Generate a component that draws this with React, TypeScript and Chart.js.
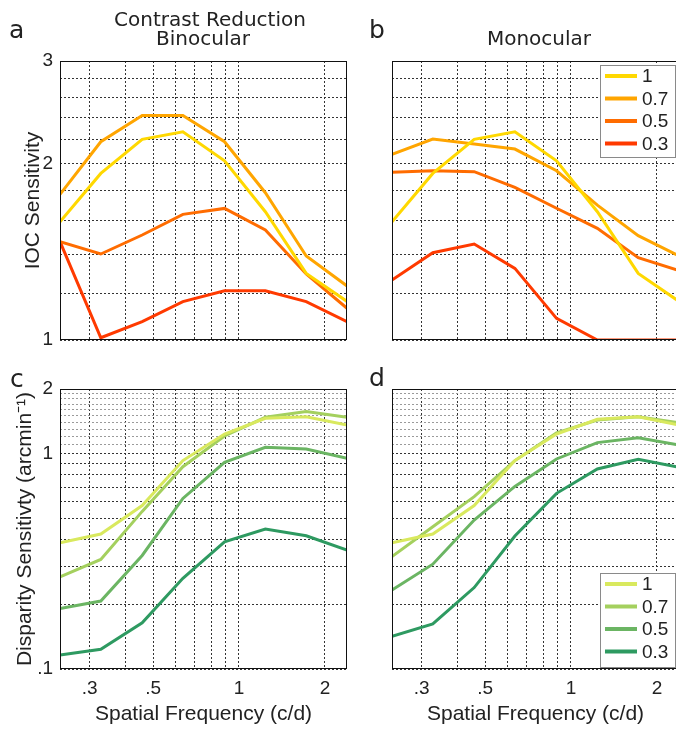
import React, { useEffect, useRef } from 'react';
import { Chart, registerables } from 'chart.js';

Chart.register(...registerables);

// ---------- data ----------
const SPATIAL_FREQ = [0.236, 0.328, 0.458, 0.636, 0.89, 1.237, 1.72, 2.39];
const X_MIN = 0.236;
const X_MAX = 2.39;
const X_GRID = [0.3, 0.4, 0.5, 0.6, 0.7, 0.8, 0.9, 1, 2];
const X_TICK_VALUES = [0.3, 0.5, 1, 2];
const X_TICK_LABELS = ['.3', '.5', '1', '2'];

const CONTRAST_LABELS = ['1', '0.7', '0.5', '0.3'];

const IOC_BINO_100 = [1.593, 1.927, 2.204, 2.27, 2.025, 1.657, 1.3, 1.164];
const IOC_BINO_70 = [1.774, 2.183, 2.42, 2.42, 2.183, 1.786, 1.392, 1.237];
const IOC_BINO_50 = [1.473, 1.403, 1.512, 1.64, 1.679, 1.542, 1.297, 1.133];
const IOC_BINO_30 = [1.473, 1.009, 1.075, 1.163, 1.214, 1.214, 1.163, 1.075];

const IOC_MONO_100 = [1.593, 1.927, 2.204, 2.27, 2.025, 1.657, 1.3, 1.164];
const IOC_MONO_70 = [2.077, 2.206, 2.163, 2.121, 1.947, 1.701, 1.508, 1.392];
const IOC_MONO_50 = [1.935, 1.947, 1.94, 1.824, 1.68, 1.552, 1.383, 1.314];
const IOC_MONO_30 = [1.266, 1.41, 1.459, 1.326, 1.089, 1.0, 1.0, 1.0];

const DISP_BINO_100 = [0.386, 0.424, 0.575, 0.93, 1.236, 1.462, 1.487, 1.361];
const DISP_BINO_70 = [0.268, 0.323, 0.54, 0.871, 1.21, 1.478, 1.57, 1.478];
const DISP_BINO_50 = [0.191, 0.207, 0.337, 0.62, 0.913, 1.072, 1.052, 0.953];
const DISP_BINO_30 = [0.116, 0.1235, 0.164, 0.264, 0.39, 0.447, 0.416, 0.357];

const DISP_MONO_100 = [0.386, 0.424, 0.575, 0.93, 1.236, 1.446, 1.487, 1.361];
const DISP_MONO_70 = [0.333, 0.458, 0.632, 0.93, 1.25, 1.436, 1.487, 1.395];
const DISP_MONO_50 = [0.233, 0.307, 0.492, 0.705, 0.946, 1.127, 1.188, 1.099];
const DISP_MONO_30 = [0.142, 0.162, 0.239, 0.415, 0.655, 0.85, 0.943, 0.865];

const IOC_Y_MIN = 1;
const IOC_Y_MAX = 3;
const IOC_Y_GRID = [1, 1.2, 1.4, 1.6, 1.8, 2, 2.2, 2.4, 2.6, 2.8, 3];
const IOC_Y_TICK_VALUES = [1, 2, 3];
const IOC_Y_TICK_LABELS = ['1', '2', '3'];

const DISP_Y_MIN = 0.1;
const DISP_Y_MAX = 2;
const DISP_Y_GRID = [0.1, 0.2, 0.3, 0.4, 0.5, 0.6, 0.7, 0.8, 0.9, 1, 1.1, 1.2, 1.3, 1.4, 1.5, 1.6, 1.7, 1.8, 1.9, 2];
const DISP_Y_TICK_VALUES = [0.1, 1, 2];
const DISP_Y_TICK_LABELS = ['.1', '1', '2'];

const WARM_COLORS = ['#FFD800', '#FFA500', '#FF6C00', '#FF3A00'];
const GREEN_COLORS = ['#D9E95E', '#A4D05E', '#6BB563', '#2E9A61'];

// ---------- styling ----------
const TICK_FONT = { family: '"Liberation Sans", Arial, sans-serif', size: 19 };
const TITLE_FONT = { family: '"Liberation Sans", Arial, sans-serif', size: 21 };
const TEXT_COLOR = '#222';
const CANVAS_W = 690;
const CANVAS_H = 730;

type Area = { left: number; top: number; right: number; bottom: number };
type TextItem = { text: string; x: number; y: number; font: string; align: CanvasTextAlign };
type PanelCfg = {
  series: number[][];
  colors: string[];
  yMin: number;
  yMax: number;
  yGrid: number[];
  yTickValues: number[];
  yTickLabels: string[];
  lightAbove: number;
  showX: boolean;
  showY: boolean;
  yTitle?: string;
  yTitlePad?: number;
  xTitle?: string;
  area: Area;
  legend?: { x: number; y: number; w: number; h: number };
  texts: TextItem[];
};

const LETTER_FONT = '25px "DejaVu Sans", sans-serif';
const HEAD_FONT = '20px "DejaVu Sans", sans-serif';

const PANELS: PanelCfg[] = [
  {
    series: [IOC_BINO_100, IOC_BINO_70, IOC_BINO_50, IOC_BINO_30],
    colors: WARM_COLORS,
    yMin: IOC_Y_MIN, yMax: IOC_Y_MAX, yGrid: IOC_Y_GRID,
    yTickValues: IOC_Y_TICK_VALUES, yTickLabels: IOC_Y_TICK_LABELS,
    lightAbove: 99,
    showX: false, showY: true,
    yTitle: 'IOC Sensitivity', yTitlePad: 21,
    area: { left: 60, top: 61, right: 347, bottom: 340 },
    texts: [
      { text: 'a', x: 9, y: 38, font: LETTER_FONT, align: 'left' },
      { text: 'Contrast Reduction', x: 210, y: 26, font: HEAD_FONT, align: 'center' },
      { text: 'Binocular', x: 203, y: 45, font: HEAD_FONT, align: 'center' },
    ],
  },
  {
    series: [IOC_MONO_100, IOC_MONO_70, IOC_MONO_50, IOC_MONO_30],
    colors: WARM_COLORS,
    yMin: IOC_Y_MIN, yMax: IOC_Y_MAX, yGrid: IOC_Y_GRID,
    yTickValues: IOC_Y_TICK_VALUES, yTickLabels: IOC_Y_TICK_LABELS,
    lightAbove: 99,
    showX: false, showY: false,
    area: { left: 392, top: 61, right: 679, bottom: 340 },
    legend: { x: 600, y: 65, w: 75, h: 92 },
    texts: [
      { text: 'b', x: 369, y: 38, font: LETTER_FONT, align: 'left' },
      { text: 'Monocular', x: 539, y: 45, font: HEAD_FONT, align: 'center' },
    ],
  },
  {
    series: [DISP_BINO_100, DISP_BINO_70, DISP_BINO_50, DISP_BINO_30],
    colors: GREEN_COLORS,
    yMin: DISP_Y_MIN, yMax: DISP_Y_MAX, yGrid: DISP_Y_GRID,
    yTickValues: DISP_Y_TICK_VALUES, yTickLabels: DISP_Y_TICK_LABELS,
    lightAbove: 1.05,
    showX: true, showY: true,
    yTitle: 'Disparity Sensitivty (arcmin\u207B\u00B9)', yTitlePad: 13,
    xTitle: 'Spatial Frequency (c/d)',
    area: { left: 60, top: 389, right: 347, bottom: 669 },
    texts: [{ text: 'c', x: 10, y: 387, font: LETTER_FONT, align: 'left' }],
  },
  {
    series: [DISP_MONO_100, DISP_MONO_70, DISP_MONO_50, DISP_MONO_30],
    colors: GREEN_COLORS,
    yMin: DISP_Y_MIN, yMax: DISP_Y_MAX, yGrid: DISP_Y_GRID,
    yTickValues: DISP_Y_TICK_VALUES, yTickLabels: DISP_Y_TICK_LABELS,
    lightAbove: 1.05,
    showX: true, showY: false,
    xTitle: 'Spatial Frequency (c/d)',
    area: { left: 392, top: 389, right: 679, bottom: 669 },
    legend: { x: 600, y: 573, w: 75, h: 94 },
    texts: [{ text: 'd', x: 369, y: 386, font: LETTER_FONT, align: 'left' }],
  },
];

function labelFor(value: number, values: number[], labels: string[]): string {
  for (let i = 0; i < values.length; i++) {
    if (Math.abs(values[i] - value) < 1e-6) return labels[i];
  }
  return '';
}

function buildConfig(cfg: PanelCfg): any {
  const yAxisWidth = cfg.showY ? cfg.area.left : 0;
  const xAxisHeight = cfg.showX ? CANVAS_H - cfg.area.bottom : 0;
  const padding = {
    left: cfg.area.left - yAxisWidth,
    top: cfg.area.top,
    right: CANVAS_W - cfg.area.right,
    bottom: CANVAS_H - cfg.area.bottom - xAxisHeight,
  };

  const framePlugin = {
    id: 'frameBox',
    afterDatasetsDraw(chart: any) {
      const { ctx, chartArea: a } = chart;
      ctx.save();
      ctx.setLineDash([]);
      ctx.strokeStyle = '#111';
      ctx.lineWidth = 1;
      ctx.strokeRect(a.left + 0.5, a.top + 0.5, a.right - a.left - 1, a.bottom - a.top - 1);
      ctx.restore();
    },
  };

  const legendPlugin = {
    id: 'boxLegend',
    afterDatasetsDraw(chart: any) {
      if (!cfg.legend) return;
      const { ctx } = chart;
      const { x, y, w, h } = cfg.legend;
      ctx.save();
      ctx.setLineDash([]);
      ctx.fillStyle = '#fff';
      ctx.fillRect(x, y, w, h);
      ctx.strokeStyle = '#8a8a8a';
      ctx.lineWidth = 1;
      ctx.strokeRect(x + 0.5, y + 0.5, w, h);
      chart.data.datasets.forEach((ds: any, i: number) => {
        const cy = y + 11 + i * 22.5;
        ctx.strokeStyle = ds.borderColor;
        ctx.lineWidth = 4;
        ctx.beginPath();
        ctx.moveTo(x + 5, cy);
        ctx.lineTo(x + 37, cy);
        ctx.stroke();
        ctx.fillStyle = TEXT_COLOR;
        ctx.font = '19px "Liberation Sans", Arial, sans-serif';
        ctx.textAlign = 'left';
        ctx.textBaseline = 'middle';
        ctx.fillText(ds.label, x + 42, cy + 1);
      });
      ctx.restore();
    },
  };

  const textPlugin = {
    id: 'panelText',
    afterDraw(chart: any) {
      const { ctx } = chart;
      ctx.save();
      ctx.fillStyle = TEXT_COLOR;
      ctx.textBaseline = 'alphabetic';
      cfg.texts.forEach((t) => {
        ctx.font = t.font;
        ctx.textAlign = t.align;
        ctx.fillText(t.text, t.x, t.y);
      });
      ctx.restore();
    },
  };

  return {
    type: 'line',
    data: {
      datasets: cfg.series.map((vals, i) => ({
        label: CONTRAST_LABELS[i],
        data: vals.map((v, j) => ({ x: SPATIAL_FREQ[j], y: v })),
        borderColor: cfg.colors[i],
        backgroundColor: cfg.colors[i],
        borderWidth: 3,
        pointRadius: 0,
        tension: 0,
        fill: false,
      })),
    },
    options: {
      responsive: false,
      animation: false,
      devicePixelRatio: 1,
      layout: { padding, autoPadding: false },
      plugins: {
        legend: { display: false },
        tooltip: { enabled: false },
        title: { display: false },
      },
      scales: {
        x: {
          type: 'logarithmic',
          position: 'bottom',
          min: X_MIN,
          max: X_MAX,
          afterBuildTicks: (s: any) => {
            s.ticks = X_GRID.map((v) => ({ value: v }));
          },
          afterFit: (s: any) => {
            s.height = xAxisHeight;
            s.paddingLeft = 0;
            s.paddingRight = 0;
          },
          ticks: {
            display: cfg.showX,
            autoSkip: false,
            maxRotation: 0,
            minRotation: 0,
            padding: 8,
            font: TICK_FONT,
            color: TEXT_COLOR,
            callback: (v: any) => labelFor(Number(v), X_TICK_VALUES, X_TICK_LABELS),
          },
          grid: { drawTicks: false, color: '#333', lineWidth: 1 },
          border: { display: false, dash: [2, 2] },
          title: cfg.xTitle
            ? { display: true, text: cfg.xTitle, font: TITLE_FONT, color: TEXT_COLOR, padding: { top: 0, bottom: 3 } }
            : { display: false },
        },
        y: {
          type: 'logarithmic',
          position: 'left',
          min: cfg.yMin,
          max: cfg.yMax,
          afterBuildTicks: (s: any) => {
            s.ticks = cfg.yGrid.map((v) => ({ value: v }));
          },
          afterFit: (s: any) => {
            s.width = yAxisWidth;
            s.paddingTop = 0;
            s.paddingBottom = 0;
          },
          ticks: {
            display: cfg.showY,
            autoSkip: false,
            padding: 7,
            font: TICK_FONT,
            color: TEXT_COLOR,
            callback: (v: any) => labelFor(Number(v), cfg.yTickValues, cfg.yTickLabels),
          },
          grid: {
            drawTicks: false,
            lineWidth: 1,
            color: (ctx: any) => {
              const v = ctx.tick ? ctx.tick.value : 0;
              return v > cfg.lightAbove ? '#9a9a9a' : '#333';
            },
          },
          border: { display: false, dash: [2, 2] },
          title: cfg.yTitle
            ? { display: true, text: cfg.yTitle, font: TITLE_FONT, color: TEXT_COLOR, padding: { top: cfg.yTitlePad, bottom: 0 } }
            : { display: false },
        },
      },
    },
    plugins: [framePlugin, legendPlugin, textPlugin],
  };
}

function Panel({ cfg }: { cfg: PanelCfg }) {
  const ref = useRef<HTMLCanvasElement>(null);
  useEffect(() => {
    if (!ref.current) return;
    const chart = new Chart(ref.current, buildConfig(cfg));
    return () => chart.destroy();
  }, [cfg]);
  return (
    <canvas
      ref={ref}
      width={CANVAS_W}
      height={CANVAS_H}
      style={{ position: 'absolute', left: 0, top: 0 }}
    />
  );
}

export default function App() {
  return (
    <div
      style={{
        position: 'fixed',
        left: 0,
        top: 0,
        width: 676,
        height: 730,
        overflow: 'hidden',
        background: '#fff',
      }}
    >
      {PANELS.map((p, i) => (
        <Panel key={i} cfg={p} />
      ))}
    </div>
  );
}
